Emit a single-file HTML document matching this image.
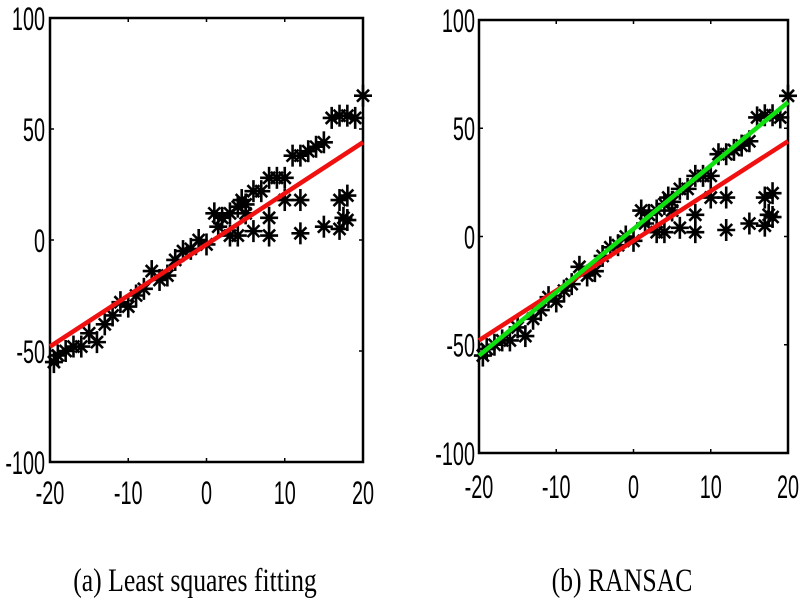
<!DOCTYPE html>
<html><head><meta charset="utf-8"><style>
body{margin:0;background:#fff}
svg text{font-family:"Liberation Sans",sans-serif}
</style></head><body>
<svg id="c" width="800" height="600" xmlns="http://www.w3.org/2000/svg">
<text x="195" y="591" text-anchor="middle" font-size="33" transform="translate(195,0) scale(0.78,1) translate(-195,0)" style="font-family:'Liberation Serif',serif">(a) Least squares fitting</text>
<text x="622" y="591" text-anchor="middle" font-size="33" transform="translate(622,0) scale(0.78,1) translate(-622,0)" style="font-family:'Liberation Serif',serif">(b) RANSAC</text>
</svg>
<script>
const xs=[-19.5,-19,-18,-17,-16,-15,-14,-13,-12,-11,-10,-9,-8,-7,-6,-5,-4,-3,-2,-1,0,1,1.5,2,3,3,4,4,4.5,5,5,6,6,7,8,8,8,9,10,10,11,12,12,12,13,14,15,15,16,17,17,17,17.5,18,18,18,19,20];
const ys=[-55,-52,-50,-48,-48,-42,-46,-38,-34,-28,-30,-25,-22,-14,-18,-16,-9,-5,-4,0,-2,12,6,10,2,12,15,2,18,12,16,4,22,22,28,10,2,28,28,18,38,38,18,3,40,42,44,6,55,56,5,18,10,56,20,9,55,65];
const lsX=[-20,20];const lsY=[-48,44];
const rsX=[-20,20];const rsY=[-55,62];
const xTicks=[-20,-10,0,10,20];const yTicks=[100,50,0,-50,-100];
const NS="http://www.w3.org/2000/svg";const svg=document.getElementById('c');
function mk(t,a,p){const e=document.createElementNS(NS,t);for(const k in a)e.setAttribute(k,a[k]);(p||svg).appendChild(e);return e;}
function panel(L,R,T,B,name,green,labX,xlabY){
 const g=mk('g',{});
 
 
 const sx=v=>L+(v+20)/40*(R-L), sy=v=>T+(100-v)/200*(B-T);
 const box=mk('rect',{x:L,y:T,width:R-L,height:B-T,fill:'none',stroke:'#000','stroke-width':2.5},g);
 
 
 xTicks.forEach(v=>{const x=sx(v);mk('line',{x1:x,y1:T,x2:x,y2:T+4,stroke:'#000','stroke-width':1.5},g);mk('line',{x1:x,y1:B,x2:x,y2:B-4,stroke:'#000','stroke-width':1.5},g);
  const t=mk('text',{x:x,y:xlabY,'text-anchor':'middle','font-size':32,transform:`translate(${x},0) scale(0.62,1) translate(${-x},0)`},g);t.textContent=v;
  
  });
 yTicks.forEach(v=>{const y=sy(v);mk('line',{x1:L,y1:y,x2:L+4,y2:y,stroke:'#000','stroke-width':1.5},g);mk('line',{x1:R,y1:y,x2:R-4,y2:y,stroke:'#000','stroke-width':1.5},g);
  const t=mk('text',{x:labX,y:y+12,'text-anchor':'end','font-size':32,transform:`translate(${labX},0) scale(0.62,1) translate(${-labX},0)`},g);t.textContent=v;
  
  });
 xs.forEach((v,i)=>{const cx=sx(v),cy=sy(ys[i]);const s=mk('g',{stroke:'#000','stroke-width':2.6},g);
  
  
  mk('line',{x1:cx-9,y1:cy,x2:cx+9,y2:cy},s);mk('line',{x1:cx,y1:cy-11,x2:cx,y2:cy+11},s);
  mk('line',{x1:cx-6,y1:cy-6,x2:cx+6,y2:cy+6},s);mk('line',{x1:cx-6,y1:cy+6,x2:cx+6,y2:cy-6},s);});
 const r=mk('line',{x1:sx(lsX[0]),y1:sy(lsY[0]),x2:sx(lsX[1]),y2:sy(lsY[1]),stroke:'#f01010','stroke-width':4.5},g);
 
 
 if(green){const gl=mk('line',{x1:sx(rsX[0]),y1:sy(rsY[0]),x2:sx(rsX[1]),y2:sy(rsY[1]),stroke:'#10e010','stroke-width':4.5},g);
  
  }
}
panel(50,363,18,462,'least-squares-panel',false,45,504);
panel(479,788,20,453,'ransac-panel',true,475,498);
</script>
</body></html>
